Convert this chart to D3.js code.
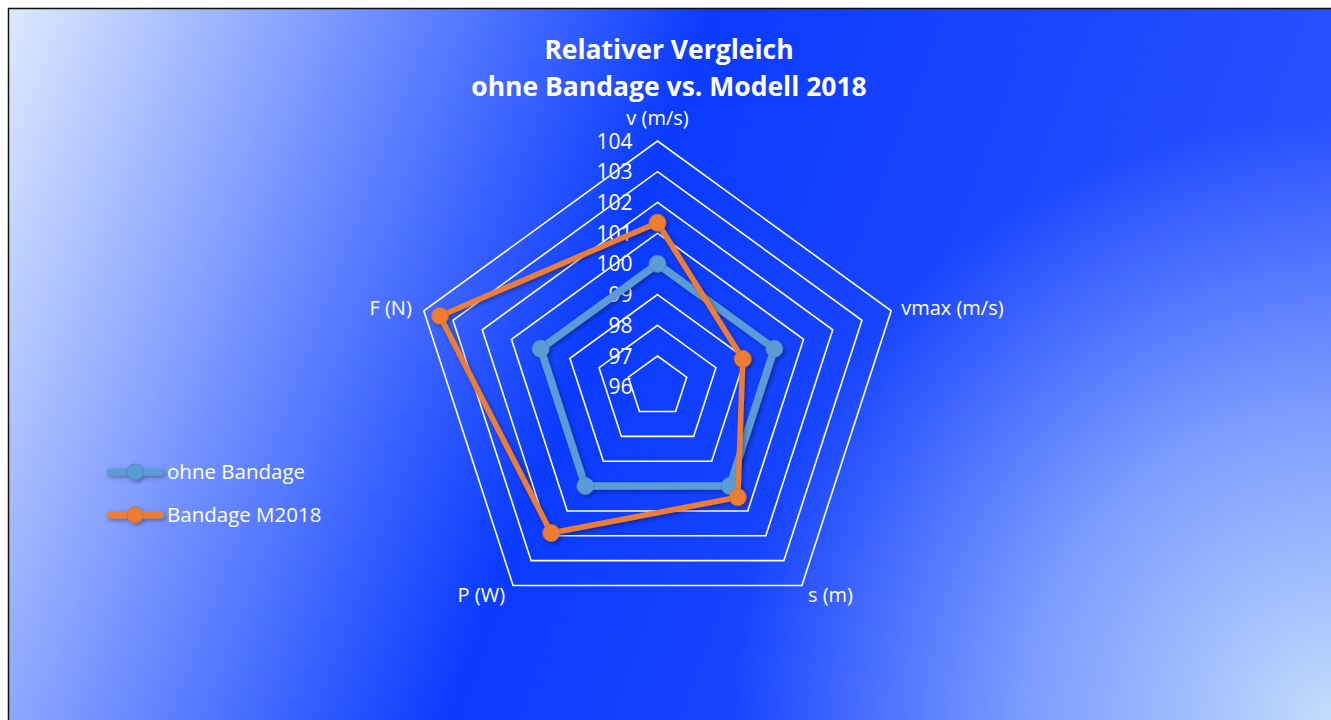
<!DOCTYPE html>
<html><head><meta charset="utf-8">
<script src="https://cdn.jsdelivr.net/npm/d3@7"></script>
<style>html,body{margin:0;padding:0;background:#fff;overflow:hidden}</style>
</head><body>
<svg id="chart" width="1331" height="720"></svg>
<script>
const axes = ["v (m/s)", "vmax (m/s)", "s (m)", "P (W)", "F (N)"];
const seriesNames = ["ohne Bandage", "Bandage M2018"];
const ohneBandage = [100, 100, 100, 100, 100];
const bandageM2018 = [101.34, 98.92, 100.45, 101.89, 103.45];
const ringTicks = [97, 98, 99, 100, 101, 102, 103, 104];
const tickLabels = [96, 97, 98, 99, 100, 101, 102, 103, 104];
const colors = ["#5b9bd5", "#ed7d31"];
const titleLines = ["Relativer Vergleich", "ohne Bandage vs. Modell 2018"];

const W = 1331, H = 720;
const FONT = "Open Sans, sans-serif";
const svg = d3.select("#chart");
const defs = svg.append("defs");
const grad = defs.append("linearGradient").attr("id", "bg")
  .attr("gradientUnits", "userSpaceOnUse")
  .attr("x1", 9).attr("y1", 9).attr("x2", 9 + 1403).attr("y2", 9 + 526);
[[0, "#dde9ff"], [0.44, "#0a3bff"], [1, "#3558ff"]]
  .forEach(([o, c]) => grad.append("stop").attr("offset", o).attr("stop-color", c));
const rad = defs.append("radialGradient").attr("id", "glow")
  .attr("gradientUnits", "userSpaceOnUse").attr("cx", W).attr("cy", H).attr("r", 600);
[[0, "#c3defc", 1], [0.5, "#9ab8ff", 0.75], [1, "#9ab8ff", 0]]
  .forEach(([o, c, a]) => rad.append("stop").attr("offset", o).attr("stop-color", c).attr("stop-opacity", a));
const sh = defs.append("filter").attr("id", "shadow").attr("x", "-20%").attr("y", "-20%").attr("width", "140%").attr("height", "140%");
sh.append("feDropShadow").attr("dx", 2).attr("dy", 2).attr("stdDeviation", 2)
  .attr("flood-color", "#000").attr("flood-opacity", 0.35);

svg.append("rect").attr("x", 9).attr("y", 9).attr("width", W - 9).attr("height", H - 9).attr("fill", "url(#bg)");
svg.append("rect").attr("x", 9).attr("y", 9).attr("width", W - 9).attr("height", H - 9).attr("fill", "url(#glow)");
svg.append("line").attr("x1", 8).attr("x2", W).attr("y1", 8.5).attr("y2", 8.5).attr("stroke", "#111").attr("stroke-width", 1.5);
svg.append("line").attr("x1", 8.5).attr("x2", 8.5).attr("y1", 8).attr("y2", H).attr("stroke", "#111").attr("stroke-width", 1.5);

const cx = 657.5, cy = 386.7;
const r = d3.scaleLinear().domain([96, 104]).range([0, 245.7]);
const angle = d3.scalePoint().domain(axes).range([0, 2 * Math.PI * (axes.length - 1) / axes.length]);
const pt = (a, v) => { const t = angle(a) - Math.PI / 2; return [cx + r(v) * Math.cos(t), cy + r(v) * Math.sin(t)]; };

const g = svg.append("g");
const lineGen = d3.line().curve(d3.curveLinearClosed);
g.selectAll(".ring").data(ringTicks).join("path")
  .attr("d", v => lineGen(axes.map(a => pt(a, v))))
  .attr("fill", "none").attr("stroke", "#fff").attr("stroke-width", 1.6);

// tick labels
g.selectAll(".tick").data(tickLabels).join("text")
  .attr("x", cx - 25).attr("y", v => cy - r(v)).attr("dy", "0.36em")
  .attr("text-anchor", "end").attr("fill", "#fff")
  .attr("font-family", FONT).attr("font-size", 21)
  .text(d => d);

// axis labels
const labelCfg = [
  {anchor: "middle", dx: 0, dy: -23},
  {anchor: "start", dx: 10, dy: -3},
  {anchor: "start", dx: 6, dy: 9},
  {anchor: "end", dx: -8, dy: 9},
  {anchor: "end", dx: -12, dy: -3}
];
axes.forEach((a, i) => {
  const [x, y] = pt(a, 104);
  g.append("text").attr("x", x + labelCfg[i].dx).attr("y", y + labelCfg[i].dy).attr("dy", "0.36em")
    .attr("text-anchor", labelCfg[i].anchor).attr("fill", "#fff")
    .attr("font-family", FONT).attr("font-size", 20).text(a);
});

// series
const data = [ohneBandage, bandageM2018];
const widths = [7.5, 5.5];
data.forEach((vals, si) => {
  const pts = axes.map((a, i) => pt(a, vals[i]));
  const sg = g.append("g").attr("filter", "url(#shadow)");
  sg.append("path").attr("d", lineGen(pts)).attr("fill", "none")
    .attr("stroke", colors[si]).attr("stroke-width", widths[si]).attr("stroke-linejoin", "round");
  sg.selectAll("circle").data(pts).join("circle")
    .attr("cx", d => d[0]).attr("cy", d => d[1]).attr("r", 8.5)
    .attr("fill", colors[si]).attr("stroke", d3.color(colors[si]).darker(0.4)).attr("stroke-width", 0.8);
});

// title
titleLines.forEach((t, i) => {
  svg.append("text").attr("x", 669).attr("y", 49 + i * 37).attr("dy", "0.36em").attr("text-anchor", "middle")
    .attr("fill", "#fff").attr("font-family", FONT).attr("font-weight", "bold").attr("font-size", 26.5)
    .text(t);
});

// legend
const lg = svg.append("g");
seriesNames.forEach((n, i) => {
  const y = 472 + i * 43;
  const e = lg.append("g").attr("filter", "url(#shadow)");
  e.append("line").attr("x1", 110).attr("x2", 160).attr("y1", y).attr("y2", y)
    .attr("stroke", colors[i]).attr("stroke-width", 7).attr("stroke-linecap", "round");
  e.append("circle").attr("cx", 135).attr("cy", y).attr("r", 8)
    .attr("fill", colors[i]).attr("stroke", d3.color(colors[i]).darker(0.4)).attr("stroke-width", 0.8);
  lg.append("text").attr("x", 167).attr("y", y).attr("dy", "0.36em").attr("fill", "#fff")
    .attr("font-family", FONT).attr("font-size", 20.5).text(n);
});
</script>
</body></html>
